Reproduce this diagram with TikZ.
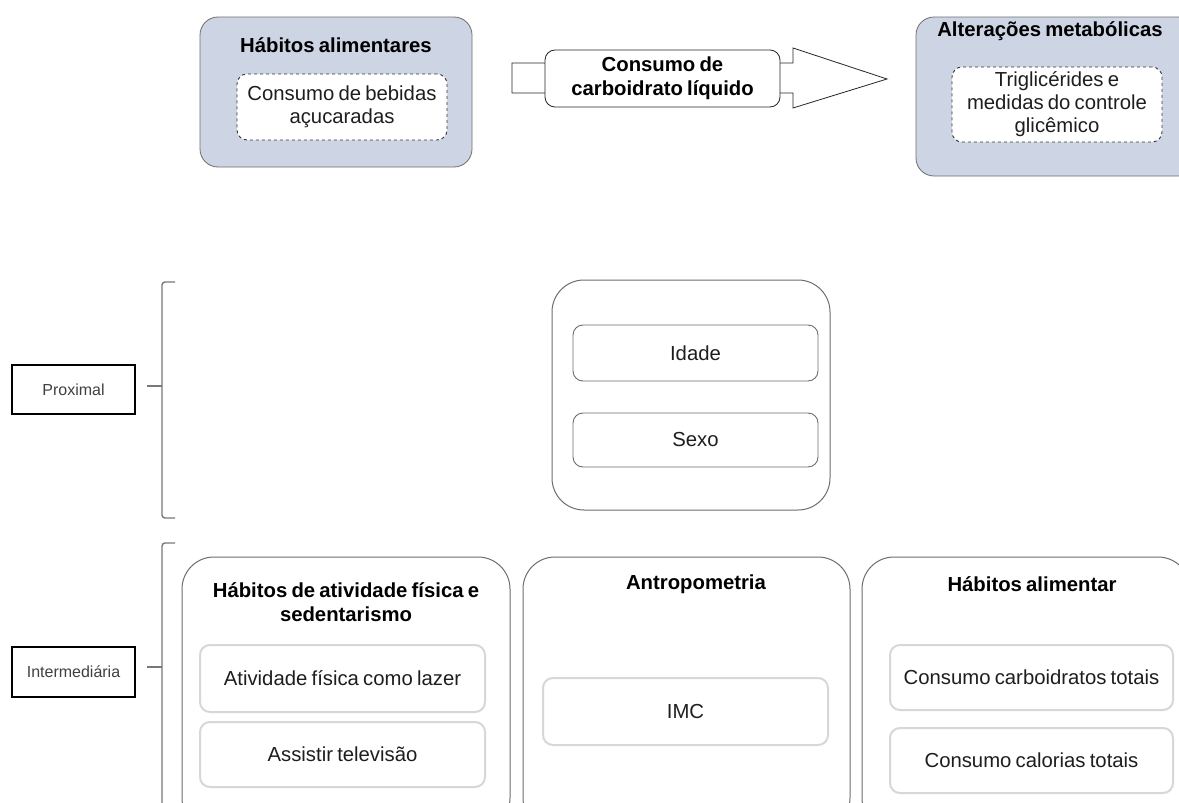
\documentclass[tikz,border=0pt]{standalone}
\usepackage{fontspec}
\setmainfont[WordSpace=0.75]{Liberation Sans}
\definecolor{bluefill}{RGB}{205,212,228}
\definecolor{edgegray}{RGB}{110,110,110}
\definecolor{lightedge}{RGB}{215,215,215}
\definecolor{bracegray}{RGB}{120,120,120}
\definecolor{txt}{RGB}{30,30,30}
\begin{document}
\begin{tikzpicture}[x=1pt,y=-1pt,
  bigtxt/.style={font=\fontsize{20.3}{23}\selectfont, text=txt, align=center},
  ttl/.style={font=\fontsize{20.3}{23.5}\selectfont\bfseries, text=black, align=center},
  bluebox/.style={draw=edgegray, fill=bluefill, rounded corners=18, line width=0.8},
  dashbox/.style={draw=black!80, dashed, fill=white, rounded corners=10, line width=0.9, bigtxt},
  container/.style={draw=edgegray, fill=white, rounded corners=32, line width=1},
  darkitem/.style={draw=edgegray, fill=white, rounded corners=10, line width=0.9, bigtxt},
  lightitem/.style={draw=lightedge, fill=white, rounded corners=10, line width=2, bigtxt},
  levelbox/.style={draw=black, line width=2.5, font=\fontsize{16}{18}\selectfont, text=black!75, minimum width=123, minimum height=49},
  bracestyle/.style={draw=bracegray, line width=1.4, rounded corners=3}
]
\useasboundingbox (0,0) rectangle (1179,803);
\clip (0,0) rectangle (1179,803);
\fill[white] (0,0) rectangle (1179,803);

% top left
\node[bluebox, minimum width=272, minimum height=150] (habA) at (336,92) {};
\node[ttl] (habAt) at (336,45) {Hábitos alimentares};
\node[dashbox, minimum width=210, minimum height=66] (habAin) at (342,107) {Consumo de bebidas\\açucaradas};

% arrow
\coordinate (aT) at (512,63);
\draw[black!85, fill=white, line width=0.8] (aT) -- (793,63) -- (793,48) -- (887,79) -- (793,108) -- (793,93) -- (512,93) -- cycle;
\node[draw=black!85, fill=white, rounded corners=10, line width=0.8, minimum width=235, minimum height=57, ttl] (arr) at (662.5,78.5) {Consumo de\\carboidrato líquido};

% top right
\node[bluebox, minimum width=280, minimum height=159] (altM) at (1056,96.5) {};
\node[ttl] (altMt) at (1050,31) {Alterações metabólicas};
\node[dashbox, minimum width=210, minimum height=75] (altMin) at (1057,104.5) {Triglicérides e\\medidas do controle\\glicêmico};

% level labels
\node[levelbox] (prox) at (73.5,389.5) {Proximal};
\node[levelbox, minimum height=50] (inter) at (73.5,672) {Intermediária};

% braces
\coordinate (pb1) at (175,282);
\coordinate (pb2) at (175,518);
\coordinate (pbm) at (147,386);
\draw[bracestyle] (pb1) -- (162,282) -- (162,518) -- (pb2);
\draw[bracestyle] (pbm) -- (162,386);
\coordinate (ib1) at (175,543);
\coordinate (ib2) at (162,820);
\coordinate (ibm) at (147,667);
\draw[bracestyle] (ib1) -- (162,543) -- (ib2);
\draw[bracestyle] (ibm) -- (162,667);

% proximal container
\node[container, minimum width=278, minimum height=230] (proxC) at (691,395) {};
\node[darkitem, minimum width=245, minimum height=56] (idade) at (695.5,353) {Idade};
\node[darkitem, minimum width=245, minimum height=54] (sexo) at (695.5,440) {Sexo};

% intermediate containers
\node[container, minimum width=328, minimum height=273] (c1) at (346,693.5) {};
\node[ttl] (c1t) at (346,602) {Hábitos de atividade física e\\sedentarismo};
\node[lightitem, minimum width=285, minimum height=67] (b1) at (342.5,678.5) {Atividade física como lazer};
\node[lightitem, minimum width=285, minimum height=65] (b2) at (342.5,754.5) {Assistir televisão};

\node[container, minimum width=327, minimum height=273] (c2) at (686.5,693.5) {};
\node[ttl] (c2t) at (696,584) {Antropometria};
\node[lightitem, minimum width=285, minimum height=67] (imc) at (685.5,711.5) {IMC};

\node[container, minimum width=328, minimum height=273] (c3) at (1026,693.5) {};
\node[ttl] (c3t) at (1032,584) {Hábitos alimentar};
\node[lightitem, minimum width=283, minimum height=65] (cc1) at (1031.5,677.5) {Consumo carboidratos totais};
\node[lightitem, minimum width=283, minimum height=65] (cc2) at (1031.5,760.5) {Consumo calorias totais};
\end{tikzpicture}
\end{document}
